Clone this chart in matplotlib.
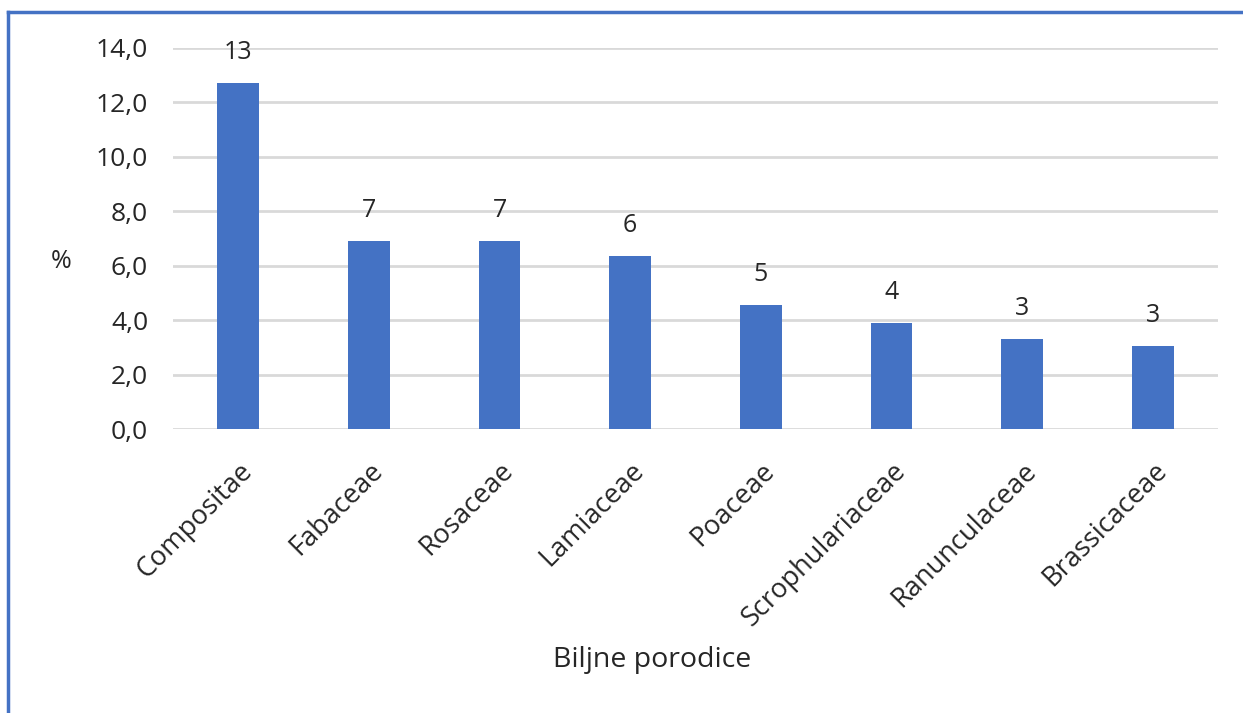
import matplotlib
matplotlib.use("Agg")
from matplotlib import pyplot as plt
from matplotlib.lines import Line2D

# %%
families = ['Compositae', 'Fabaceae', 'Rosaceae', 'Lamiaceae', 'Poaceae',
            'Scrophulariaceae', 'Ranunculaceae', 'Brassicaceae']
percent = [12.7, 6.9, 6.9, 6.35, 4.55, 3.9, 3.3, 3.05]
labels = ['13', '7', '7', '6', '5', '4', '3', '3']
yticks = [0, 2, 4, 6, 8, 10, 12, 14]
ytick_labels = ['0,0', '2,0', '4,0', '6,0', '8,0', '10,0', '12,0', '14,0']

# %%
plt.rcParams['font.family'] = ['Open Sans', 'DejaVu Sans']
text_color = '#262626'
bar_color = '#4472C4'

fig = plt.figure(figsize=(12.43, 7.13), dpi=100)
ax = fig.add_axes([0.1392, 0.3983, 0.8407, 0.5344])

x = range(len(families))
bars = ax.bar(x, percent, width=0.32, color=bar_color, zorder=3)

for rect, lab in zip(bars, labels):
    ax.annotate(lab, (rect.get_x() + rect.get_width() / 2, rect.get_height()),
                xytext=(0, 13), textcoords='offset points', ha='center', va='bottom',
                fontsize=18, color=text_color)

ax.set_xlim(-0.5, len(families) - 0.5)
ax.set_ylim(0, 14)
ax.set_yticks(yticks)
ax.set_yticklabels(ytick_labels, fontsize=19, color=text_color)
ax.set_xticks(list(x))
ax.set_xticklabels(families, rotation=45, ha='right', rotation_mode='anchor',
                   fontsize=19.5, color=text_color)
ax.tick_params(axis='both', length=0)
ax.tick_params(axis='y', pad=18)
ax.tick_params(axis='x', pad=20)
ax.grid(axis='y', color='#d9d9d9', linewidth=2, zorder=0)
for side in ax.spines:
    ax.spines[side].set_visible(False)

fig.text(61 / 1243, 1 - 262 / 713, '%', fontsize=18, color=text_color,
         ha='center', va='center')
fig.text(652 / 1243, 1 - 660 / 713, 'Biljne porodice', fontsize=20.5, color=text_color,
         ha='center', va='center')

# blue frame on the top and left edge
fig.add_artist(Line2D([8 / 1243, 1], [1 - 12 / 713, 1 - 12 / 713],
                      transform=fig.transFigure, color=bar_color, linewidth=2.5))
fig.add_artist(Line2D([8 / 1243, 8 / 1243], [0, 1 - 12 / 713],
                      transform=fig.transFigure, color=bar_color, linewidth=2.5))

fig.savefig('out.png', dpi=100)
